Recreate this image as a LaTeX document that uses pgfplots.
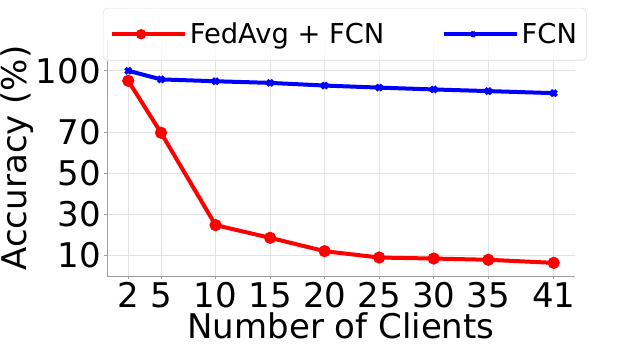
\documentclass[border=0pt]{standalone}
\usepackage{fontspec}
\setmainfont{DejaVu Sans}
\usepackage{pgfplots}
\pgfplotsset{compat=1.18}

\begin{document}
\begin{tikzpicture}
  \begin{axis}[
      scale only axis,
      width=351pt,
      height=177pt,
      xmin=0.05, xmax=42.95,
      ymin=0, ymax=115,
      xtick={2,5,10,15,20,25,30,35,41},
      ytick={10,30,50,70,100},
      axis x line*=bottom,
      axis y line*=left,
      axis line style={gray!75, line width=0.6pt},
      tick style={gray!75, line width=0.6pt},
      tick align=outside,
      major tick length=2.5pt,
      grid=major,
      grid style={gray!22, line width=0.6pt},
      font=\fontsize{25.5}{30}\selectfont,
      /pgf/number format/assume math mode=true,
      xticklabel style={inner sep=1pt, yshift=-1pt},
      yticklabel style={inner sep=1pt, xshift=-1pt},
      xlabel={Number of Clients},
      ylabel={Accuracy (\%)},
      xlabel style={yshift=1pt},
      ylabel style={yshift=-3pt},
      legend columns=2,
      legend style={
        at={(0.508,1.136)}, anchor=north,
        draw=gray!25, rounded corners=3pt,
        fill=white, fill opacity=0.8, text opacity=1,
        font=\fontsize{20.5}{24}\selectfont,
        inner xsep=5pt, inner ysep=9pt,
        /tikz/every even column/.append style={column sep=41pt},
      },
      legend cell align=left,
      legend image code/.code={%
        \draw[mark repeat=2,mark phase=2,mark size=2.3pt] plot coordinates {(0pt,0pt) (22pt,0pt) (44pt,0pt)};
        \path (0pt,0pt) -- (55pt,0pt);},
    ]
    \addplot[red, line width=3pt, mark=*, mark size=3pt]
      coordinates {(2,95.1) (5,69.8) (10,24.8) (15,18.6) (20,12.1) (25,9.0) (30,8.5) (35,7.9) (41,6.4)};
    \addlegendentry{FedAvg + FCN}
    \addplot[blue, line width=3pt, mark=x, mark size=3pt, mark options={line width=2.6pt}]
      coordinates {(2,100.0) (5,95.8) (10,94.9) (15,94.1) (20,92.8) (25,91.8) (30,90.9) (35,90.1) (41,89.1)};
    \addlegendentry{FCN}
  \end{axis}
  \pgfresetboundingbox
  \path ([xshift=-80.25pt,yshift=-51.75pt]current axis.south west)
    rectangle ([xshift=48.75pt,yshift=30pt]current axis.north east);
\end{tikzpicture}
\end{document}
